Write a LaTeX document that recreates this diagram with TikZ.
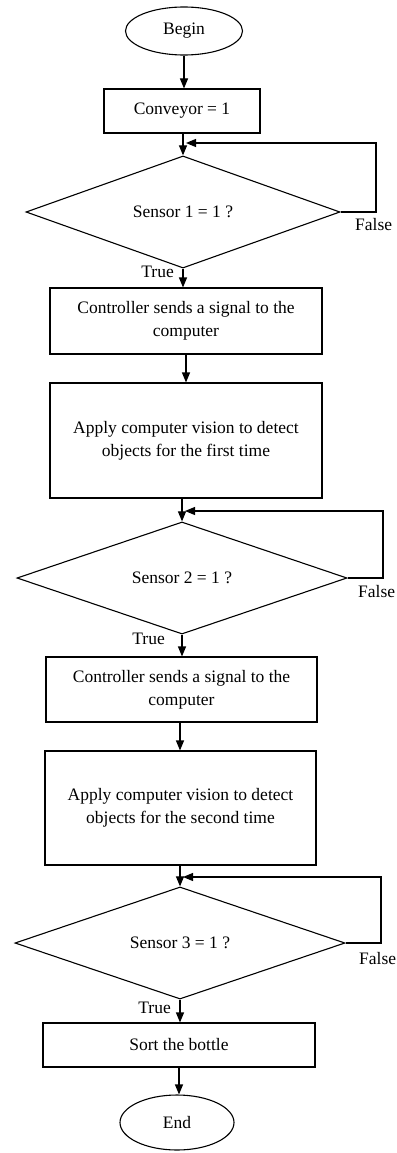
\documentclass[tikz,border=0pt]{standalone}
\usepackage{fontspec}
\setmainfont{Liberation Serif}
\usetikzlibrary{shapes.geometric,arrows.meta}
\begin{document}
\begin{tikzpicture}[x=1pt,y=-1pt,
  every node/.style={font=\fontsize{17.5}{23}\selectfont,inner sep=0pt},
  term/.style={draw,ellipse,line width=1.1pt},
  proc/.style={draw,rectangle,line width=1.1pt,align=center},
  cond/.style={draw,diamond,line width=1.1pt,minimum height=100pt},
  lbl/.style={},
  arr/.style={line width=1.1pt,-{Triangle[length=10pt,width=8pt]}},
  fbline/.style={line width=1.1pt,-{Triangle[length=10pt,width=8pt]}}]
\useasboundingbox (0,0) rectangle (396,1153);

\node[term,minimum width=117pt,minimum height=48pt] (begin) at (184,31) {Begin};
\node[proc,minimum width=156pt,minimum height=44pt] (conv) at (182,111) {Conveyor = 1};
\node[cond,minimum width=314pt] (d1) at (183,212) {Sensor 1 = 1 ?};
\node[proc,minimum width=272pt,minimum height=66pt] (ctrl1) at (186,321) {Controller sends a signal to the\\computer};
\node[proc,minimum width=272pt,minimum height=115pt] (vis1) at (186,440.5) {Apply computer vision to detect\\objects for the first time};
\node[cond,minimum width=330pt] (d2) at (182,578) {Sensor 2 = 1 ?};
\node[proc,minimum width=271pt,minimum height=65pt] (ctrl2) at (181.5,689.5) {Controller sends a signal to the\\computer};
\node[proc,minimum width=271pt,minimum height=114pt] (vis2) at (180.5,808) {Apply computer vision to detect\\objects for the second time};
\node[cond,minimum width=330pt] (d3) at (180,943) {Sensor 3 = 1 ?};
\node[proc,minimum width=272pt,minimum height=44pt] (sort) at (179,1045) {Sort the bottle};
\node[term,minimum width=114pt,minimum height=55pt] (end) at (177,1122.5) {End};

% labels
\node[lbl,anchor=west] (f1l) at (355,225) {False};
\node[lbl,anchor=east] (t1l) at (174,272) {True};
\node[lbl,anchor=west] (f2l) at (358,592) {False};
\node[lbl,anchor=east] (t2l) at (165,639) {True};
\node[lbl,anchor=west] (f3l) at (359,959) {False};
\node[lbl,anchor=east] (t3l) at (171,1008) {True};

% feedback corner coordinates
\coordinate (c1) at (376,143);
\coordinate (c2) at (383,511);
\coordinate (c3) at (381,877);

% main flow
\draw[arr] (begin.south) -- (begin.south |- conv.north);
\draw[arr] (d1.north |- conv.south) -- (d1.north);
\draw[arr] (d1.south) -- (d1.south |- ctrl1.north);
\draw[arr] (ctrl1.south) -- (ctrl1.south |- vis1.north);
\draw[arr] (d2.north |- vis1.south) -- (d2.north);
\draw[arr] (d2.south) -- (d2.south |- ctrl2.north);
\draw[arr] (d3.north |- ctrl2.south) -- (d3.north |- vis2.north);
\draw[arr] (d3.north |- vis2.south) -- (d3.north);
\draw[arr] (d3.south) -- (d3.south |- sort.north);
\draw[arr] (sort.south) -- (sort.south |- end.north);

% feedback loops
\draw[fbline] (d1.east) -| (c1) -- ([xshift=3pt]d1.north |- c1);
\draw[fbline] (d2.east) -| (c2) -- ([xshift=3pt]d2.north |- c2);
\draw[fbline] (d3.east) -| (c3) -- ([xshift=3pt]d3.north |- c3);
\end{tikzpicture}
\end{document}
